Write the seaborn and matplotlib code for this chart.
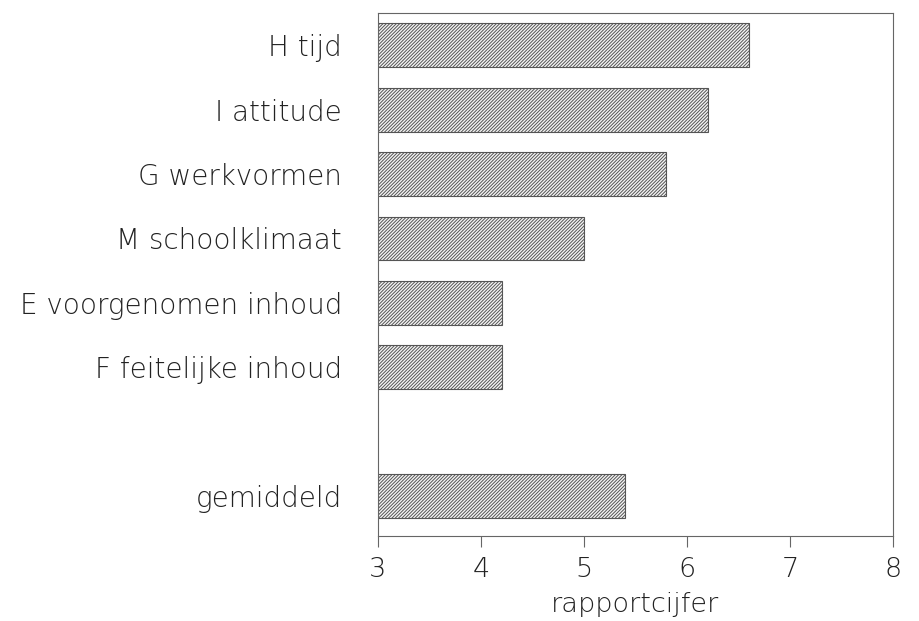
import matplotlib
matplotlib.use("Agg")
import matplotlib.pyplot as plt
import seaborn as sns
import pandas as pd

categories = ["H tijd", "I attitude", "G werkvormen", "M schoolklimaat",
              "E voorgenomen inhoud", "F feitelijke inhoud", "gemiddeld"]
positions = [0, 1, 2, 3, 4, 5, 7]
values = [6.6, 6.2, 5.8, 5.0, 4.2, 4.2, 5.4]
x_ticks = [3, 4, 5, 6, 7, 8]

sns.set_theme(style="white")
plt.rcParams['font.family'] = ['DejaVu Sans']
plt.rcParams['hatch.linewidth'] = 0.7
plt.rcParams['hatch.color'] = '#8c8c8c'

df = pd.DataFrame({"cat": categories, "pos": positions, "val": values})

fig = plt.figure(figsize=(9.19, 6.21), dpi=100)
ax = fig.add_axes([378/919, 1 - 536/621, (893 - 378)/919, (536 - 13)/621])

sns.barplot(data=df, x="val", y="pos", orient="y", native_scale=True,
            width=0.68, color="#f4f4f4", edgecolor="#555555", linewidth=0.8,
            hatch="//////////", ax=ax)

ax.set_xlim(3, 8)
ax.set_ylim(7.62, -0.5)
ax.set_xticks(x_ticks)
ax.set_xticklabels([str(t) for t in x_ticks])
ax.set_yticks(positions)
ax.set_yticklabels(categories)
ax.set_ylabel("")
ax.set_xlabel("rapportcijfer", fontsize=19.5, color="#222222", labelpad=7,
              fontweight="light")

ax.tick_params(axis="x", length=8, width=0.8, color="#666666", direction="out",
               pad=7, labelsize=19.5, labelcolor="#222222", bottom=True)
ax.tick_params(axis="y", length=0, pad=26, labelsize=20, labelcolor="#222222")
for lab in ax.get_xticklabels() + ax.get_yticklabels():
    lab.set_fontweight("light")

for s in ax.spines.values():
    s.set_visible(True)
    s.set_color("#666666")
    s.set_linewidth(0.8)

fig.savefig("out.png", dpi=100)
